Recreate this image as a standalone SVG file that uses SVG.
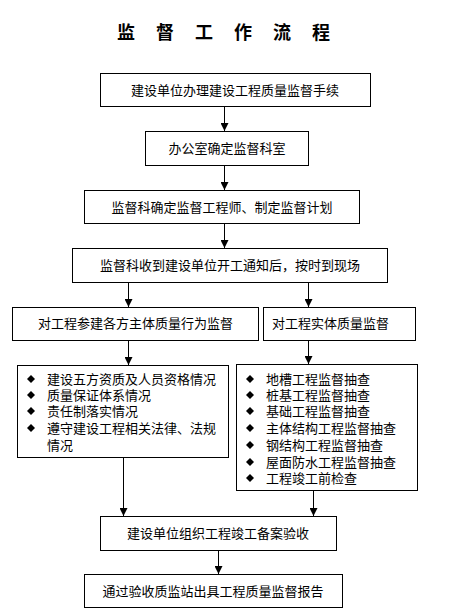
<svg xmlns="http://www.w3.org/2000/svg" width="455" height="616" viewBox="0 0 455 616">
<style>
.box{fill:#fff;stroke:#000;stroke-width:1}
.t{font-family:"Noto Sans CJK SC","Noto Sans CJK JP",sans-serif;font-size:13px;fill:#000}
.c{text-anchor:middle}
.title{font-family:"Noto Sans CJK SC",sans-serif;font-size:18px;font-weight:bold;fill:#000}
.ln{stroke:#000;stroke-width:1;fill:none}
</style>
<defs>
<marker id="ah" markerWidth="8" markerHeight="8" refX="8" refY="4" orient="auto" markerUnits="userSpaceOnUse">
<path d="M0,0 L8,4 L0,8 Z" fill="#000"/>
</marker>
<path id="dm" d="M0,-4 L4,0 L0,4 L-4,0 Z" fill="#000"/>
</defs>
<rect width="455" height="616" fill="#fff"/>
<text class="title" x="117 156 195 234 273 312" y="39">监督工作流程</text>

<g id="connectors">
<line class="ln" x1="224.5" y1="107" x2="224.5" y2="131" marker-end="url(#ah)"/>
<line class="ln" x1="224.5" y1="166" x2="224.5" y2="190" marker-end="url(#ah)"/>
<line class="ln" x1="224.5" y1="223" x2="224.5" y2="248" marker-end="url(#ah)"/>
<line class="ln" x1="128.5" y1="282" x2="128.5" y2="307" marker-end="url(#ah)"/>
<line class="ln" x1="308.5" y1="282" x2="308.5" y2="307" marker-end="url(#ah)"/>
<line class="ln" x1="128.5" y1="340" x2="128.5" y2="365" marker-end="url(#ah)"/>
<line class="ln" x1="308.5" y1="340" x2="308.5" y2="364" marker-end="url(#ah)"/>
<line class="ln" x1="123.5" y1="457" x2="123.5" y2="516" marker-end="url(#ah)"/>
<line class="ln" x1="313.5" y1="490" x2="313.5" y2="516" marker-end="url(#ah)"/>
<line class="ln" x1="218.5" y1="550" x2="218.5" y2="574" marker-end="url(#ah)"/>
</g>

<g id="n1"><rect class="box" x="100.5" y="73.5" width="270" height="33"/><text class="t c" x="235" y="95">建设单位办理建设工程质量监督手续</text></g>
<g id="n2"><rect class="box" x="145.5" y="131.5" width="163" height="34"/><text class="t c" x="227" y="153">办公室确定监督科室</text></g>
<g id="n3"><rect class="box" x="84.5" y="190.5" width="275" height="33"/><text class="t c" x="222" y="212">监督科确定监督工程师、制定监督计划</text></g>
<g id="n4"><rect class="box" x="72.5" y="248.5" width="315" height="34"/><text class="t c" x="230" y="270">监督科收到建设单位开工通知后，按时到现场</text></g>
<g id="n5"><rect class="box" x="12.5" y="307.5" width="246" height="33"/><text class="t" x="38" y="328">对工程参建各方主体质量行为监督</text></g>
<g id="n6"><rect class="box" x="263.5" y="307.5" width="152" height="33"/><text class="t" x="272" y="328">对工程实体质量监督</text></g>
<g id="n7"><rect class="box" x="17.5" y="365.5" width="211" height="92"/>
<use href="#dm" x="31" y="379"/><use href="#dm" x="31" y="395"/><use href="#dm" x="31" y="411"/><use href="#dm" x="31" y="428"/>
<text class="t" x="47" y="384">建设五方资质及人员资格情况</text>
<text class="t" x="47" y="400">质量保证体系情况</text>
<text class="t" x="47" y="416">责任制落实情况</text>
<text class="t" x="47" y="433">遵守建设工程相关法律、法规</text>
<text class="t" x="47" y="450">情况</text>
</g>
<g id="n8"><rect class="box" x="236.5" y="364.5" width="181" height="126"/>
<use href="#dm" x="250" y="379"/><use href="#dm" x="250" y="395"/><use href="#dm" x="250" y="411"/><use href="#dm" x="250" y="428"/><use href="#dm" x="250" y="445"/><use href="#dm" x="250" y="462"/><use href="#dm" x="250" y="478"/>
<text class="t" x="266" y="384">地槽工程监督抽查</text>
<text class="t" x="266" y="400">桩基工程监督抽查</text>
<text class="t" x="266" y="416">基础工程监督抽查</text>
<text class="t" x="266" y="433">主体结构工程监督抽查</text>
<text class="t" x="266" y="450">钢结构工程监督抽查</text>
<text class="t" x="266" y="467">屋面防水工程监督抽查</text>
<text class="t" x="266" y="483">工程竣工前检查</text>
</g>
<g id="n9"><rect class="box" x="100.5" y="516.5" width="236" height="34"/><text class="t c" x="218" y="538">建设单位组织工程竣工备案验收</text></g>
<g id="n10"><rect class="box" x="84.5" y="574.5" width="258" height="33"/><text class="t c" x="213" y="596">通过验收质监站出具工程质量监督报告</text></g>
</svg>
